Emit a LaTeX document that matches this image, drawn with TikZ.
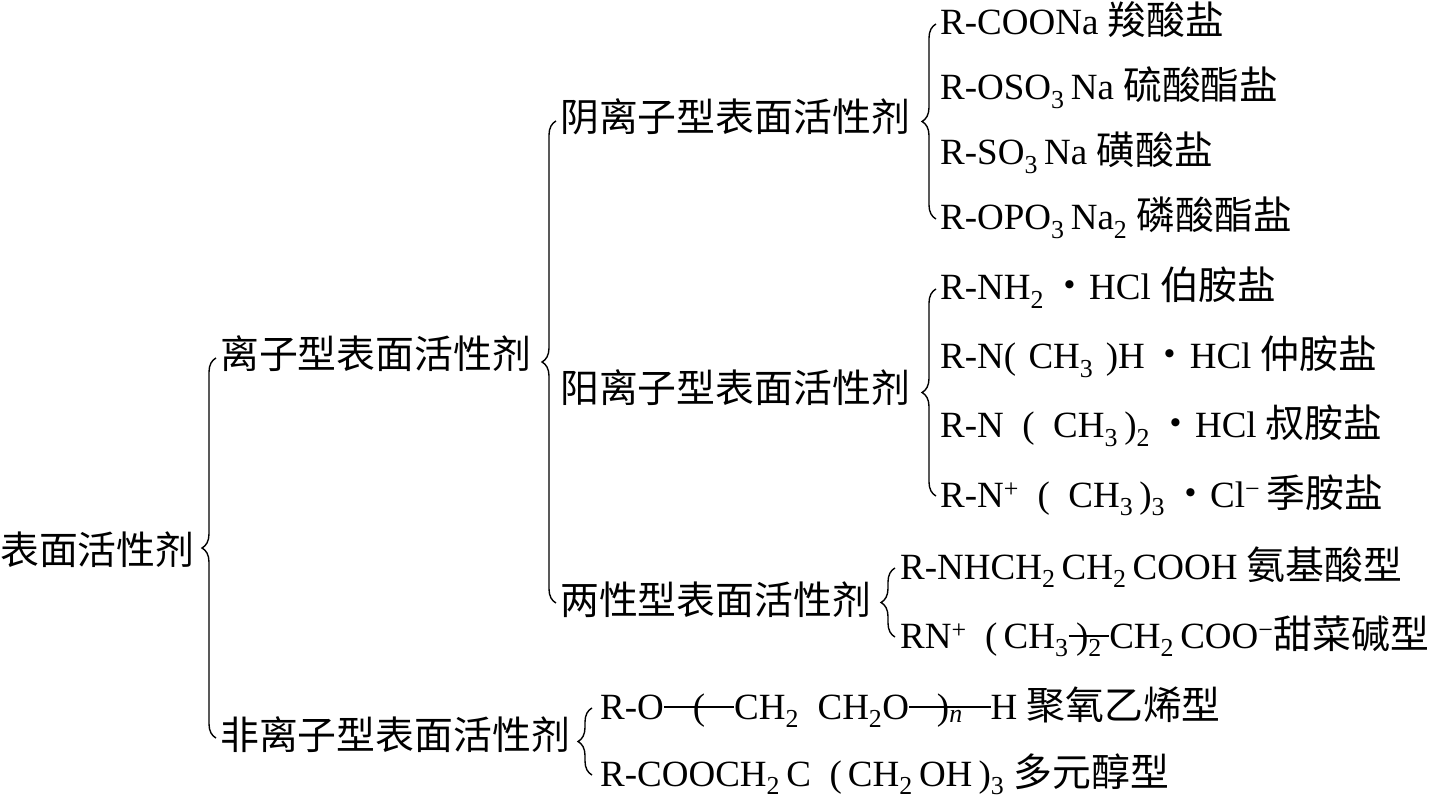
\documentclass[tikz,border=0pt]{standalone}
\usepackage{fontspec}
\setmainfont{Liberation Serif}
\newfontfamily\cn{Noto Sans CJK SC}[Scale=1.05]
\usetikzlibrary{positioning,decorations.pathreplacing}

% chemical formula helpers
\newcommand{\chsub}[1]{\textsubscript{#1}}
\newcommand{\chsup}[1]{\textsuperscript{#1}}
\newcommand{\bondpar}[2]{\ooalign{\raisebox{0.3em}{\rule{#1}{0.045em}}\cr\hss#2\hss\cr}}

\begin{document}
\begin{tikzpicture}[x=1pt,y=-1pt,
                    every node/.style={inner sep=0pt, anchor=west, text height=27pt, text depth=5pt,
                                       font=\fontsize{37}{44}\selectfont},
                    brc/.style={decorate, decoration={brace, amplitude=14pt}, line width=1.4pt}]
\useasboundingbox (0,0) rectangle (1430,799);

% levels 1-3
\node (root) at (0,553) {\cn 表面活性剂};
\node (ion) at (220,358) {\cn 离子型表面活性剂};
\node (nonion) at (220,738) {\cn 非离子型表面活性剂};
\node (an) at (560,121) {\cn 阴离子型表面活性剂};
\node (cat) at (560,392) {\cn 阳离子型表面活性剂};
\node (amph) at (560,603) {\cn 两性型表面活性剂};

% anionic
\node (a1) at (940,24) {R-COONa {\cn 羧酸盐}};
\node[below=65pt of a1.west, anchor=west] (a2) {R-OSO\chsub{3}\,Na {\cn 硫酸酯盐}};
\node[below=65pt of a2.west, anchor=west] (a3) {R-SO\chsub{3}\,Na {\cn 磺酸盐}};
\node[below=65pt of a3.west, anchor=west] (a4) {R-OPO\chsub{3}\,Na\chsub{2} {\cn 磷酸酯盐}};

% cationic
\node (c1) at (940,289) {R-NH\chsub{2}\,{\cn ・}HCl {\cn 伯胺盐}};
\node[below=69pt of c1.west, anchor=west] (c2) {R-N(\,\,CH\chsub{3}\,\,)H\,{\cn ・}HCl {\cn 仲胺盐}};
\node[below=69pt of c2.west, anchor=west] (c3) {R-N\enspace(\enspace CH\chsub{3}\,)\chsub{2}\,{\cn ・}HCl {\cn 叔胺盐}};
\node[below=69pt of c3.west, anchor=west] (c4) {R-N\chsup{+}\enspace(\enspace CH\chsub{3}\,)\chsub{3}\,{\cn ・}Cl\chsup{−}\,{\cn 季胺盐}};

% amphoteric
\node (p1) at (900,568) {R-NHCH\chsub{2}\,CH\chsub{2}\,COOH {\cn 氨基酸型}};
\node[below=69pt of p1.west, anchor=west] (p2) {RN\chsup{+}\enspace(\,CH\chsub{3}\bondpar{1.1em}{)\chsub{2}}CH\chsub{2}\,COO\chsup{−}{\cn 甜菜碱型}};

% nonionic
\node (n1) at (600,708) {R-O\bondpar{1.9em}{(}CH\chsub{2}\enspace CH\chsub{2}O\bondpar{2.2em}{)\chsub{\itshape n}}H {\cn 聚氧乙烯型}};
\node[below=67pt of n1.west, anchor=west] (n2) {R-COOCH\chsub{2}\,C\enspace(\,CH\chsub{2}\,OH\,)\chsub{3} {\cn 多元醇型}};

% braces
\draw[brc] ([xshift=-4pt]nonion.west) -- ([xshift=-4pt]ion.west);
\draw[brc] ([xshift=-4pt]amph.west) -- ([xshift=-4pt]an.west);
\draw[brc] ([xshift=-4pt]a4.west) -- ([xshift=-4pt]a1.west);
\draw[brc] ([xshift=-4pt]c4.west) -- ([xshift=-4pt]c1.west);
\draw[brc] ([xshift=-5pt]p2.west) -- ([xshift=-5pt]p1.west);
\draw[brc] ([xshift=-8pt]n2.west) -- ([xshift=-8pt]n1.west);
\end{tikzpicture}
\end{document}
